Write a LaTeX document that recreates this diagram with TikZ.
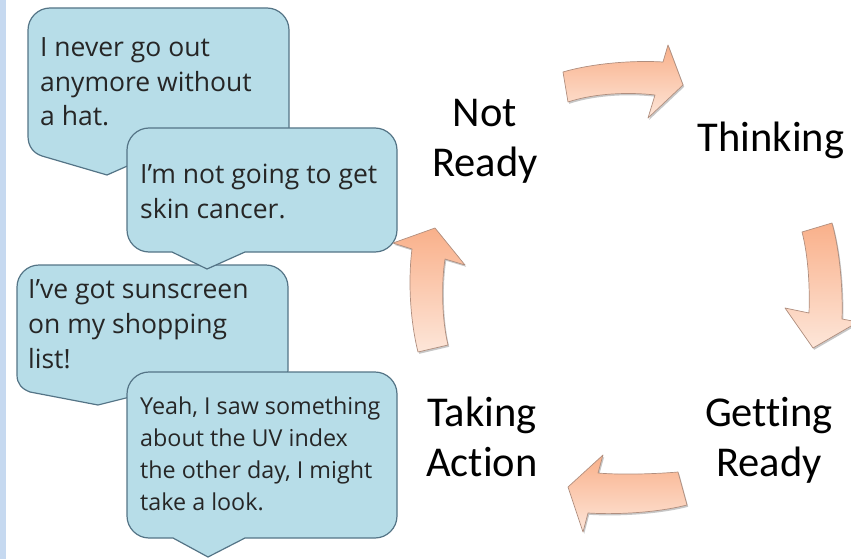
\documentclass[tikz,border=0pt]{standalone}
\usepackage{fontspec}
\usetikzlibrary{shadows}
\newfontfamily\bubblefont{Open Sans}
\newfontfamily\labelfont[Ligatures=NoCommon]{Carlito}
\definecolor{bubfill}{RGB}{183,221,232}
\definecolor{bubline}{RGB}{84,116,134}
\definecolor{txtcol}{RGB}{38,38,38}
\definecolor{stripecol}{RGB}{198,217,240}
\definecolor{arrdark}{RGB}{249,176,138}
\definecolor{arrlight}{RGB}{253,230,217}
\definecolor{arrline}{RGB}{176,142,126}
\tikzset{
  bubble/.style={fill=bubfill, draw=bubline, line width=1.2pt, line join=round},
  bubtext/.style={inner sep=0pt, align=left, text=txtcol, anchor=base west,
     font=\bubblefont\fontsize{26.5}{35}\selectfont},
  smalltext/.style={bubtext, font=\bubblefont\fontsize{23.3}{31.8}\selectfont},
  lbl/.style={inner sep=0pt, align=center, text=black, anchor=base,
     font=\labelfont\fontsize{42.5}{49.5}\selectfont},
  cyclearrow/.style={top color=arrdark, bottom color=arrlight, draw=arrline,
     line width=0.7pt, line join=round,
     drop shadow={shadow xshift=1.2pt, shadow yshift=-1.8pt, opacity=0.22, fill=black}},
}
\begin{document}
\begin{tikzpicture}[x=1pt, y=-1pt]
\useasboundingbox (0,0) rectangle (851,559);
\clip (0,0) rectangle (851,559);
\fill[stripecol] (0,0) rectangle (6,559);

% bubble 1
\path[bubble] (28,30) .. controls (28,18) and (38,8) .. (50,8) -- (267,8)
  .. controls (279,8) and (289,18) .. (289,30) -- (289,134)
  .. controls (289,146) and (279,156) .. (267,156) -- (150,156) -- (107,175) -- (42,156)
  .. controls (33,153) and (28,146) .. (28,136) -- cycle;
\node[bubtext] (t1) at (40,126) {I never go out\\anymore without\\a hat.};

% bubble 3
\path[bubble] (17,287) .. controls (17,275) and (27,265) .. (39,265) -- (266,265)
  .. controls (278,265) and (288,275) .. (288,287) -- (288,370)
  .. controls (288,382) and (278,392) .. (266,392) -- (150,392) -- (98,405) -- (30,392)
  .. controls (22,389) and (17,384) .. (17,375) -- cycle;
\node[bubtext] (t3) at (28,368) {I’ve got sunscreen\\on my shopping\\list!};

% bubble 2
\path[bubble] (127,150) .. controls (127,138) and (137,128) .. (149,128) -- (375,128)
  .. controls (387,128) and (397,138) .. (397,150) -- (397,230)
  .. controls (397,242) and (387,252) .. (375,252) -- (245,252) -- (207,269) -- (172,252)
  -- (149,252) .. controls (137,252) and (127,242) .. (127,230) -- cycle;
\node[bubtext] (t2) at (140,218) {I’m not going to get\\skin cancer.};

% bubble 4
\path[bubble] (127,394) .. controls (127,382) and (137,372) .. (149,372) -- (375,372)
  .. controls (387,372) and (397,382) .. (397,394) -- (397,516)
  .. controls (397,528) and (387,538) .. (375,538) -- (245,538) -- (208,557) -- (173,538)
  -- (149,538) .. controls (137,538) and (127,528) .. (127,516) -- cycle;
\node[smalltext] (t4) at (140,510) {Yeah, I saw something\\about the UV index\\the other day, I might\\take a look.};

% stage labels
\node[lbl] (notready) at (485,176) {Not\\Ready};
\node[lbl] (thinking) at (771,151) {Thinking};
\node[lbl] (getting) at (769,476) {Getting\\Ready};
\node[lbl] (taking) at (482,476) {Taking\\Action};

% cycle arrows
\path[cyclearrow] (563,72) .. controls (590,64) and (630,60) .. (663,62) -- (668,45)
  -- (683,85) -- (648,118) -- (655,95) .. controls (630,92) and (595,93) .. (568,102) -- cycle;
\path[cyclearrow] (802,232) -- (832,223) .. controls (840,252) and (843,290) .. (842,319)
  -- (858,322) -- (813,348) -- (785,308) -- (809,313)
  .. controls (810,285) and (808,255) .. (802,232) -- cycle;
\path[cyclearrow] (678,472) .. controls (655,474) and (620,475) .. (598,473) -- (603,455)
  -- (568,487) -- (583,532) -- (588,513) .. controls (620,515) and (660,512) .. (687,505) -- cycle;
\path[cyclearrow] (435,228) -- (465,265) -- (445,259) .. controls (441,285) and (442,320) .. (448,345)
  -- (418,352) .. controls (410,320) and (408,280) .. (412,249) -- (393,243) -- cycle;
\end{tikzpicture}
\end{document}
